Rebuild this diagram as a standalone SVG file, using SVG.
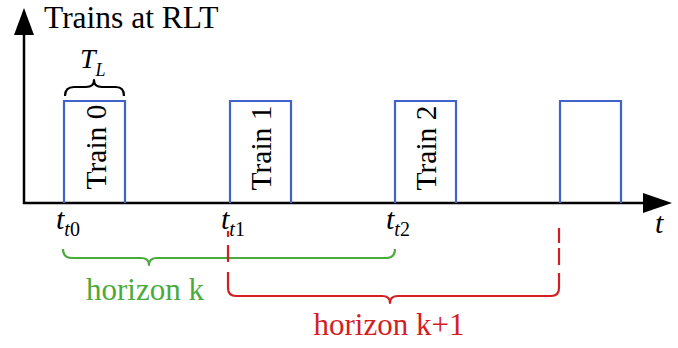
<svg xmlns="http://www.w3.org/2000/svg" width="678" height="348" viewBox="0 0 678 348">
  <style>
    .axis { stroke: #000; stroke-width: 2.5; fill: none; }
    .box { stroke: #3f63c8; stroke-width: 2.2; fill: none; }
    .lbl { font-family: "Liberation Serif", "Times New Roman", serif; fill: #000; }
    .it { font-style: italic; }
    .brace { fill: none; stroke-width: 2.2; stroke-linejoin: round; stroke-linecap: butt; }
    .green { stroke: #4aaa3c; }
    .red { stroke: #d41e23; }
  </style>
  <rect width="678" height="348" fill="#fff"/>

  <!-- axes -->
  <g id="axes">
    <line class="axis" x1="24" y1="204" x2="24" y2="32"/>
    <polygon points="24,8 14,35 34,35" fill="#000"/>
    <line class="axis" x1="23" y1="203" x2="646" y2="203"/>
    <polygon points="672,203 643,193 643,213" fill="#000"/>
    <text class="lbl" x="44" y="28" font-size="31.5">Trains at RLT</text>
    <text class="lbl it" x="655" y="233" font-size="30">t</text>
  </g>

  <!-- train occupancy slots -->
  <g id="train0">
    <polyline class="box" points="64,203 64,101 125,101 125,203"/>
    <text class="lbl" x="106" y="147" font-size="29.5" text-anchor="middle" transform="rotate(-90 106 147)">Train 0</text>
  </g>
  <g id="train1">
    <polyline class="box" points="230,203 230,101 291,101 291,203"/>
    <text class="lbl" x="271" y="148" font-size="29.5" text-anchor="middle" transform="rotate(-90 271 148)">Train 1</text>
  </g>
  <g id="train2">
    <polyline class="box" points="395,203 395,101 456,101 456,203"/>
    <text class="lbl" x="436" y="148" font-size="29.5" text-anchor="middle" transform="rotate(-90 436 148)">Train 2</text>
  </g>
  <g id="train3">
    <polyline class="box" points="560,203 560,101 621,101 621,203"/>
  </g>

  <!-- slot length brace -->
  <g id="slot-length">
    <path class="brace" stroke="#000" d="M65,96 Q65,87 74,87 L86,87 Q94,87 94,80 Q94,87 102,87 L116,87 Q124,87 124,96"/>
    <text class="lbl it" x="80" y="68" font-size="28">T<tspan font-size="18" dx="0" dy="8">L</tspan></text>
  </g>

  <!-- arrival time labels -->
  <g id="t-labels">
    <text class="lbl it" x="56" y="229" font-size="30">t<tspan font-size="20" dy="7">t</tspan><tspan font-size="20" font-style="normal">0</tspan></text>
    <text class="lbl it" x="221" y="229" font-size="30">t<tspan font-size="20" dy="7">t</tspan><tspan font-size="20" font-style="normal">1</tspan></text>
    <text class="lbl it" x="386" y="229" font-size="30">t<tspan font-size="20" dy="7">t</tspan><tspan font-size="20" font-style="normal">2</tspan></text>
  </g>

  <!-- horizon braces -->
  <g id="connectors">
    <path class="brace green" d="M63,249 Q63,258 72,258 L141,258 Q149,258 149,265 Q149,258 157,258 L386,258 Q395,258 395,249"/>
    <path class="brace red" d="M228,231 L228,237 M228,245 L228,262 M228,272 L228,288 Q228,296 236,296 L382,296 Q390,296 390,303 Q390,296 398,296 L551,296 Q559,296 559,288 L559,273 M559,265 L559,248 M559,243 L559,228"/>
  </g>

  <g id="horizon-labels">
    <text class="lbl" x="145" y="300" font-size="31" text-anchor="middle" style="fill:#4aaa3c">horizon k</text>
    <text class="lbl" x="389" y="335" font-size="31" text-anchor="middle" style="fill:#d41e23">horizon k+1</text>
  </g>
</svg>
